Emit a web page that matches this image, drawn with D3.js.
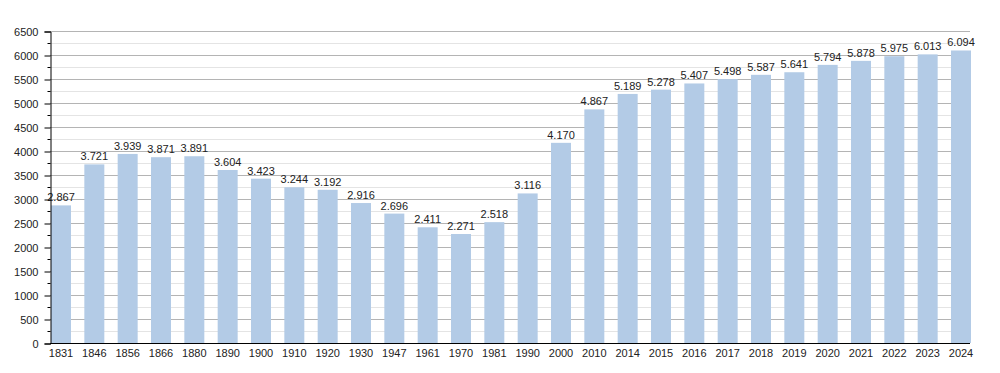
<!DOCTYPE html>
<html>
<head>
<meta charset="utf-8">
<script src="https://cdn.jsdelivr.net/npm/d3@7"></script>
<style>
  body { margin: 0; background: #fff; }
  text { font-family: "Liberation Sans", Arial, sans-serif; fill: #222; }
</style>
</head>
<body>
<svg id="chart"></svg>
<script>
// data
const years = ["1831","1846","1856","1866","1880","1890","1900","1910","1920","1930","1947","1961","1970","1981","1990","2000","2010","2014","2015","2016","2017","2018","2019","2020","2021","2022","2023","2024"]
const population = [2867,3721,3939,3871,3891,3604,3423,3244,3192,2916,2696,2411,2271,2518,3116,4170,4867,5189,5278,5407,5498,5587,5641,5794,5878,5975,6013,6094]
const yMax = 6500

const width = 1000
const height = 373
const margin = { left: 50, right: 30, top: 31, bottom: 30 }

const svg = d3.select('svg#chart').attr('width', width).attr('height', height)

const x = d3.scaleBand().domain(years).range([margin.left + 1, width - margin.right + 1]).paddingInner(0.4).paddingOuter(0)
const y = d3.scaleLinear().domain([0, yMax]).range([height - margin.bottom, margin.top])

const fmt = v => d3.format(',')(v).replace(/,/g, '.')

// grid: minor every 250, major every 500
const minor = d3.range(250, yMax, 500)
const major = d3.range(500, yMax + 1, 500)
svg.append('g').selectAll('line').data(minor).enter().append('line')
  .attr('x1', margin.left).attr('x2', width - margin.right)
  .attr('y1', d => y(d) + 0.5).attr('y2', d => y(d) + 0.5)
  .attr('stroke', '#e4e4e4')
svg.append('g').selectAll('line').data(major).enter().append('line')
  .attr('x1', margin.left).attr('x2', width - margin.right)
  .attr('y1', d => y(d) + 0.5).attr('y2', d => y(d) + 0.5)
  .attr('stroke', '#b4b4b4')

// bars
svg.append('g').selectAll('rect').data(population).enter().append('rect')
  .attr('x', (d, i) => x(years[i]))
  .attr('width', x.bandwidth())
  .attr('y', d => y(d))
  .attr('height', d => y(0) - y(d))
  .attr('fill', '#b3cbe6')

// value labels
svg.append('g').selectAll('text').data(population).enter().append('text')
  .attr('x', (d, i) => x(years[i]) + x.bandwidth() / 2)
  .attr('y', d => y(d) - 4)
  .attr('text-anchor', 'middle')
  .attr('font-size', 11)
  .text(d => fmt(d))

// y axis
const yAxis = svg.append('g').attr('transform', 'translate(' + (margin.left + 0.5) + ',0.5)')
  .call(d3.axisLeft(y).tickValues(d3.range(0, yMax + 1, 500)).tickSize(6).tickPadding(6).tickFormat(d3.format('d')))
yAxis.select('.domain').attr('stroke', '#000')
yAxis.selectAll('.tick line').attr('stroke', '#000')
yAxis.selectAll('.tick text').attr('font-size', 11).attr('font-family', '"Liberation Sans", Arial, sans-serif').attr('fill', '#222')
yAxis.append('g').selectAll('line').data(minor).enter().append('line')
  .attr('x1', -3).attr('x2', 0)
  .attr('y1', d => y(d)).attr('y2', d => y(d))
  .attr('stroke', '#000')

// x axis
const xAxis = svg.append('g').attr('transform', 'translate(0,' + (y(0) + 0.5) + ')')
  .call(d3.axisBottom(x).tickSize(0).tickPadding(6).tickSizeOuter(0))
xAxis.select('.domain').attr('stroke', '#000').attr('d', 'M' + margin.left + ',0H' + (width - margin.right))
xAxis.selectAll('.tick text').attr('font-size', 11).attr('font-family', '"Liberation Sans", Arial, sans-serif').attr('fill', '#222')
</script>
</body>
</html>
